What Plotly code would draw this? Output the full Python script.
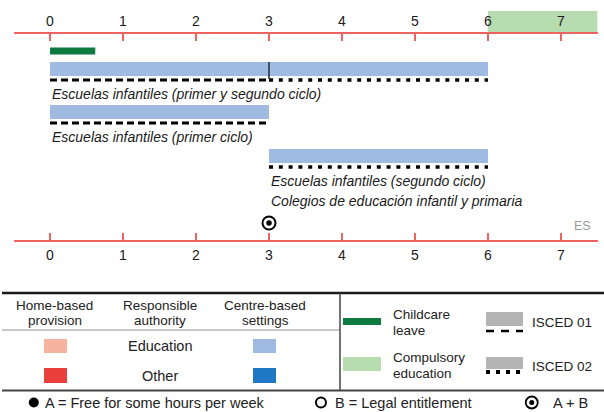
import plotly.graph_objects as go

# ---------------- data ----------------
age_ticks = [0, 1, 2, 3, 4, 5, 6, 7]
childcare_leave_start = 0
childcare_leave_end = 0.62
compulsory_start = 6

setting_names = [
    "Escuelas infantiles (primer y segundo ciclo)",
    "Escuelas infantiles (primer ciclo)",
    "Escuelas infantiles (segundo ciclo)",
]
setting_extra = [None, None, "Colegios de educación infantil y primaria"]
setting_start = [0, 0, 3]
setting_end = [6, 3, 6]
isced01_start = [0, 0, None]
isced01_end = [3, 3, None]
isced02_start = [3, None, 3]
isced02_end = [6, None, 6]
entitlement_age = [3]
entitlement_type = ["A + B"]
country = "ES"

# ---------------- layout constants ----------------
W, H = 604, 412
X_MIN, X_MAX = -0.5, 7.5
AX_L, AX_R = 13.5, 597.5
TOP_AXIS_Y, BOTTOM_AXIS_Y = 32, 240
ROW_Y = [69, 112, 156]
BAR_H = 14
LINE_OFF = 11
LEAVE_Y, LEAVE_H = 51, 7
COMP_TOP = 11
ENT_Y = 223

FONT = "Liberation Sans, Arial, sans-serif"
RED = "#ef6461"
BLUE_LIGHT = "#9fbbe2"
BLUE_DARK = "#1f78c3"
SALMON = "#f6b3a0"
RED_OTHER = "#e9403b"
GREEN_DARK = "#0d7a40"
GREEN_LIGHT = "#b6dcb0"
GRAY = "#b4b4b4"
DASH01 = "7px,4px"
DASH02 = "4px,5.8px"

fig = go.Figure()

# compulsory education band
fig.add_trace(go.Bar(
    orientation="h", base=[compulsory_start], x=[X_MAX - compulsory_start],
    y=[(COMP_TOP + TOP_AXIS_Y) / 2], width=[TOP_AXIS_Y - COMP_TOP],
    marker=dict(color=GREEN_LIGHT, line=dict(width=0)), hoverinfo="skip"))

# childcare leave
fig.add_trace(go.Bar(
    orientation="h", base=[childcare_leave_start],
    x=[childcare_leave_end - childcare_leave_start],
    y=[LEAVE_Y], width=[LEAVE_H],
    marker=dict(color=GREEN_DARK, line=dict(width=0)), hoverinfo="skip"))

# settings bars
fig.add_trace(go.Bar(
    orientation="h", base=setting_start,
    x=[e - s for s, e in zip(setting_start, setting_end)],
    y=ROW_Y, width=[BAR_H] * len(ROW_Y),
    marker=dict(color=BLUE_LIGHT, line=dict(width=0)), hoverinfo="skip"))

annotations = []
for i in range(len(setting_names)):
    ly = ROW_Y[i] + LINE_OFF
    if isced01_start[i] is not None:
        fig.add_trace(go.Scatter(
            x=[isced01_start[i], isced01_end[i]], y=[ly, ly], mode="lines",
            line=dict(color="black", width=3, dash=DASH01), hoverinfo="skip"))
    if isced02_start[i] is not None:
        fig.add_trace(go.Scatter(
            x=[isced02_start[i], isced02_end[i]], y=[ly, ly], mode="lines",
            line=dict(color="black", width=3.5, dash=DASH02), hoverinfo="skip"))
    if isced01_start[i] is not None and isced02_start[i] is not None:
        fig.add_trace(go.Scatter(
            x=[isced01_end[i], isced01_end[i]],
            y=[ROW_Y[i] - BAR_H / 2, ly - 1], mode="lines",
            line=dict(color="#2b3547", width=1.6), hoverinfo="skip"))
    annotations.append(dict(
        x=setting_start[i], y=ROW_Y[i] + 24.5, xref="x", yref="y",
        text="<i>" + setting_names[i] + "</i>", showarrow=False,
        xanchor="left", yanchor="middle",
        font=dict(family=FONT, size=14, color="#1a1a1a")))
    if setting_extra[i]:
        annotations.append(dict(
            x=setting_start[i], y=ROW_Y[i] + 45, xref="x", yref="y",
            text="<i>" + setting_extra[i] + "</i>", showarrow=False,
            xanchor="left", yanchor="middle",
            font=dict(family=FONT, size=14, color="#1a1a1a")))

# entitlement marker (A + B)
fig.add_trace(go.Scatter(
    x=entitlement_age, y=[ENT_Y] * len(entitlement_age), mode="markers",
    marker=dict(symbol="circle", size=13, color="white",
                line=dict(color="black", width=2)), hoverinfo="skip"))
fig.add_trace(go.Scatter(
    x=entitlement_age, y=[ENT_Y] * len(entitlement_age), mode="markers",
    marker=dict(symbol="circle", size=5.5, color="black",
                line=dict(width=0)), hoverinfo="skip"))

annotations.append(dict(
    x=7.29, y=226, xref="x", yref="y", text=country, showarrow=False,
    xanchor="center", yanchor="middle",
    font=dict(family=FONT, size=12.5, color="#9a9a9a")))

# ---------------- legend (static key) ----------------
def P(x):
    return x / W

shapes = []
def hline(x0, x1, y, color, width, dash="solid"):
    shapes.append(dict(type="line", xref="paper", yref="y", x0=P(x0), x1=P(x1),
                       y0=y, y1=y, line=dict(color=color, width=width, dash=dash)))
def rect(x0, x1, y0, y1, color):
    shapes.append(dict(type="rect", xref="paper", yref="y", x0=P(x0), x1=P(x1),
                       y0=y0, y1=y1, fillcolor=color, line=dict(width=0)))

hline(2, 604, 293, "#1a1a1a", 2.5)
hline(2, 340, 330, "#8f8f8f", 1)
shapes.append(dict(type="line", xref="paper", yref="y", x0=P(340), x1=P(340),
                   y0=293, y1=390, line=dict(color="#444444", width=1.5)))
hline(2, 604, 390.5, "#444444", 2)

rect(44, 67, 339, 353, SALMON)
rect(44, 67, 368, 383, RED_OTHER)
rect(253, 276, 339, 353, BLUE_LIGHT)
rect(253, 276, 368, 383, BLUE_DARK)
rect(343, 381, 318, 325, GREEN_DARK)
rect(343, 381, 357, 371, GREEN_LIGHT)
rect(486, 523, 312, 326, GRAY)
hline(486, 523, 331, "black", 2.5, "8px,7px")
rect(486, 523, 357, 369, GRAY)
hline(486, 523, 372, "black", 4, "4px,6px")

def label(text, x, y, anchor="center", size=14.5, color="#222222"):
    annotations.append(dict(x=P(x), y=y, xref="paper", yref="y", text=text,
                            showarrow=False, xanchor=anchor, yanchor="middle",
                            font=dict(family=FONT, size=size, color=color)))

label("Home-based", 55, 305, size=13.5)
label("provision", 55, 320.5, size=13.5)
label("Responsible", 160, 305, size=13.5)
label("authority", 160, 320.5, size=13.5)
label("Centre-based", 265, 305, size=13.5)
label("settings", 265, 320.5, size=13.5)
label("Education", 160, 346)
label("Other", 160, 376)
label("Childcare", 391, 314.5, "left", size=13.5)
label("leave", 391, 330, "left", size=13.5)
label("Compulsory", 391, 357.5, "left", size=13.5)
label("education", 391, 373, "left", size=13.5)
label("ISCED 01", 530, 322, "left", size=13.5)
label("ISCED 02", 530, 366, "left", size=13.5)
label("A = Free for some hours per week", 43, 402.5, "left")
label("B = Legal entitlement", 333, 402.5, "left")
label("A + B", 551, 402.5, "left")

# key symbols
fig.add_trace(go.Scatter(x=[P(21)], y=[402.5], xaxis="x3", mode="markers",
                         marker=dict(symbol="circle", size=10, color="black"),
                         hoverinfo="skip"))
fig.add_trace(go.Scatter(x=[P(318)], y=[402.5], xaxis="x3", mode="markers",
                         marker=dict(symbol="circle", size=10, color="white",
                                     line=dict(color="black", width=2)),
                         hoverinfo="skip"))
fig.add_trace(go.Scatter(x=[P(536)], y=[402.5], xaxis="x3", mode="markers",
                         marker=dict(symbol="circle", size=12, color="white",
                                     line=dict(color="black", width=1.8)),
                         hoverinfo="skip"))
fig.add_trace(go.Scatter(x=[P(536)], y=[402.5], xaxis="x3", mode="markers",
                         marker=dict(symbol="circle", size=5, color="black"),
                         hoverinfo="skip"))

axis_common = dict(
    range=[X_MIN, X_MAX], domain=[AX_L / W, AX_R / W],
    tickvals=age_ticks, ticktext=[str(a) for a in age_ticks],
    ticks="inside", ticklen=7, tickwidth=1.5, tickcolor=RED,
    showline=True, linecolor=RED, linewidth=1.5,
    showgrid=False, zeroline=False, fixedrange=True,
    tickfont=dict(family=FONT, size=14, color="#1a1a1a"),
    anchor="free",
)

fig.update_layout(
    width=W, height=H, autosize=False,
    margin=dict(l=0, r=0, t=0, b=0),
    paper_bgcolor="white", plot_bgcolor="white",
    barmode="overlay", showlegend=False, hovermode=False,
    xaxis=dict(side="top", position=1 - TOP_AXIS_Y / H, **axis_common),
    xaxis2=dict(side="bottom", position=1 - BOTTOM_AXIS_Y / H,
                overlaying="x", ticklabelstandoff=2, **axis_common),
    xaxis3=dict(range=[0, 1], domain=[0, 1], visible=False, overlaying="x",
                anchor="y", fixedrange=True),
    yaxis=dict(range=[H, 0], domain=[0, 1], visible=False, fixedrange=True),
    shapes=shapes, annotations=annotations,
)
# make bottom axis show (needs a trace bound to it)
fig.add_trace(go.Scatter(x=[0], y=[-100], xaxis="x2", mode="markers",
                         marker=dict(size=1, color="white"), hoverinfo="skip"))

fig.write_html(
    "out.html",
    config={"displayModeBar": False, "staticPlot": True},
    post_script="document.body.style.margin='0';document.body.style.padding='0';"
                "document.body.style.overflow='hidden';",
)
